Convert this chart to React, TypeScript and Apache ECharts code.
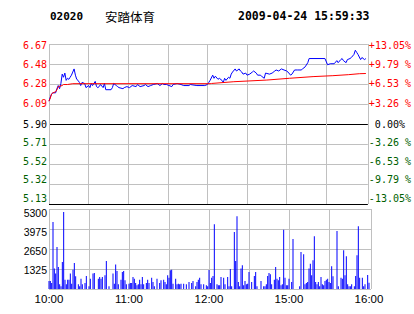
import React, { useEffect, useRef } from "react";
import * as echarts from "echarts";

const stockCode = "02020";
const stockName = "安踏体育";
const timestamp = "2009-04-24 15:59:33";
const prevClose = 5.9;
const pctMax = 13.05;
const volMax = 5300;

const leftTicks = ["5.13", "5.32", "5.52", "5.71", "5.90", "6.09", "6.28", "6.48", "6.67"];
const rightTicks = ["-13.05%", "-9.79 %", "-6.53 %", "-3.26 %", "0.00%", "+3.26 %", "+6.53 %", "+9.79 %", "+13.05%"];
const volTicks = ["", "1325", "2650", "3975", "5300"];
const timeTicks = ["10:00", "", "11:00", "", "12:00", "", "15:00", "", "16:00"];

const priceTimes = ["10:00","10:01","10:02","10:03","10:05","10:06","10:07","10:08","10:09","10:10","10:11","10:12","10:13","10:14","10:15","10:16","10:17","10:18","10:19","10:20","10:21","10:22","10:23","10:24","10:25","10:27","10:28","10:30","10:31","10:32","10:33","10:35","10:36","10:37","10:38","10:39","10:41","10:42","10:43","10:47","10:48","10:49","10:51","10:52","10:53","10:56","10:57","10:59","11:01","11:03","11:06","11:07","11:09","11:12","11:13","11:15","11:17","11:19","11:22","11:24","11:26","11:27","11:29","11:33","11:34","11:37","11:40","11:42","11:46","11:47","11:52","11:58","12:00","12:01","12:02","12:04","12:05","12:06","12:08","12:09","12:11","12:12","12:13","12:14","12:16","12:17","12:18","12:19","12:21","12:22","12:24","12:25","12:26","12:27","12:29","12:30","14:32","14:34","14:35","14:37","14:38","14:40","14:41","14:43","14:44","14:47","14:49","14:51","14:52","14:54","14:56","14:58","15:00","15:01","15:03","15:04","15:06","15:08","15:11","15:12","15:14","15:16","15:17","15:29","15:31","15:33","15:36","15:38","15:39","15:41","15:42","15:43","15:45","15:46","15:48","15:49","15:51","15:52","15:53","15:54","15:56","15:57","15:59","16:00"];
const priceValues = [6.12,6.16,6.19,6.20,6.20,6.24,6.27,6.24,6.29,6.38,6.35,6.39,6.32,6.34,6.33,6.35,6.37,6.40,6.43,6.37,6.33,6.32,6.30,6.27,6.30,6.29,6.25,6.27,6.25,6.29,6.27,6.31,6.26,6.25,6.26,6.28,6.25,6.29,6.23,6.23,6.25,6.29,6.27,6.26,6.25,6.24,6.25,6.26,6.25,6.27,6.26,6.28,6.26,6.27,6.28,6.26,6.27,6.28,6.29,6.27,6.29,6.28,6.28,6.26,6.28,6.29,6.28,6.27,6.27,6.28,6.27,6.27,6.28,6.30,6.32,6.37,6.34,6.36,6.33,6.34,6.32,6.30,6.34,6.32,6.35,6.34,6.38,6.40,6.43,6.41,6.43,6.41,6.40,6.38,6.39,6.37,6.38,6.40,6.41,6.39,6.37,6.37,6.36,6.34,6.39,6.38,6.39,6.41,6.42,6.41,6.43,6.42,6.41,6.40,6.37,6.38,6.42,6.42,6.42,6.43,6.45,6.49,6.53,6.53,6.47,6.48,6.48,6.51,6.49,6.52,6.53,6.51,6.49,6.52,6.53,6.54,6.57,6.61,6.59,6.57,6.52,6.54,6.52,6.53];

const avgTimes = ["10:00","10:01","10:02","10:03","10:05","10:06","10:07","10:10","10:11","10:14","10:18","12:02","12:03","12:20","14:45","15:02","15:20","15:35","15:47","15:55","16:00"];
const avgValues = [6.12,6.15,6.19,6.20,6.21,6.23,6.26,6.27,6.28,6.28,6.288,6.288,6.29,6.307,6.323,6.34,6.356,6.365,6.375,6.384,6.386];

// volume per trading minute (index 0 = 10:00 ... 240 = 16:00)
const volumes = [
  530,530,400,4440,1350,1020,2780,1460,310,177,
  1790,5100,620,310,620,620,1020,350,1280,1720,
  840,0,310,177,685,310,0,400,860,0,
  177,685,0,1020,1060,0,0,685,795,685,
  795,0,905,1855,0,177,0,0,1020,350,
  1630,1190,310,0,620,1125,1190,575,310,0,
  350,400,400,795,685,400,243,310,620,310,
  795,310,0,400,620,400,0,750,464,177,
  0,685,0,400,575,0,620,464,310,905,
  750,1237,1280,350,0,685,310,350,310,350,
  0,350,0,310,0,464,0,400,530,0,
  177,464,620,750,310,0,310,0,243,177,
  1260,400,750,860,4285,0,310,243,243,795,
  0,750,310,0,795,177,1330,177,0,3776,
  1855,4814,464,177,1350,1570,243,530,310,350,
  1125,0,464,0,860,1125,177,0,0,530,
  0,177,177,310,860,1060,970,310,0,620,
  1460,685,575,795,243,310,3930,750,243,243,
  685,0,464,3312,0,0,0,0,177,2450,
  0,2297,310,400,464,1350,1680,905,1900,3490,
  464,310,464,177,795,310,243,530,620,685,
  464,400,1500,840,0,0,3843,177,0,750,
  685,2562,905,2164,310,177,177,310,0,177,
  860,2230,4152,750,0,750,177,310,0,930,
  420
];

const GRAY = "#c0c0c0";
const RED = "#ff0000";
const GREEN = "#005f00";
const BLUE = "#0000ff";
const MONO = "DejaVu Sans Mono";
const SANS = "Liberation Sans";

function toIdx(t: string): number {
  const [h, m] = t.split(":").map(Number);
  const mins = h * 60 + m;
  return mins >= 14 * 60 + 30 ? mins - 600 - 120 : mins - 600;
}
const toPct = (p: number) => (p / prevClose - 1) * 100;

export default function App() {
  const ref = useRef<HTMLDivElement>(null);
  useEffect(() => {
    if (!ref.current) return;
    const chart = echarts.init(ref.current, null, { renderer: "svg" });
    const pctStep = pctMax / 4;
    const pIdx = (v: number) => Math.round((v + pctMax) / pctStep);
    const shiftUp = [6, 5, 3, 2, 0, 1, 1, 0, -1];
    const pad = (s: number, left = 0) => (s >= 0 ? [0, 0, 2 * s, left] : [-2 * s, 0, 0, left]);
    const colorAt = (i: number) => (i < 4 ? GREEN : i === 4 ? "#000" : RED);
    const leftRich: any = {};
    const rightRich: any = {};
    for (let i = 0; i < 9; i++) {
      leftRich["l" + i] = { color: colorAt(i), fontFamily: MONO, fontSize: 10, padding: pad(shiftUp[i]) };
      rightRich["r" + i] = { color: colorAt(i), fontFamily: MONO, fontSize: 10, padding: pad(shiftUp[i], i === 4 ? 6 : 0) };
    }
    const volRich: any = {};
    for (let i = 0; i < 5; i++) {
      volRich["v" + i] = { color: "#000", fontFamily: SANS, fontSize: 10.5, padding: [2 * i, 0, 0, 0] };
    }
    const vSplit = [GRAY, GRAY, GRAY, GRAY, GRAY, GRAY, GRAY, GRAY, "rgba(0,0,0,0)", GRAY];
    const hSplit = ["#000", GRAY, GRAY, GRAY, "#000", GRAY, GRAY, GRAY, GRAY];

    const xBase = (gridIndex: number, labels: boolean) => ({
      type: "value",
      gridIndex,
      min: 0,
      max: 241.5,
      interval: 30,
      axisLine: { show: false },
      axisTick: { show: false },
      splitLine: { show: true, lineStyle: { color: vSplit, width: 1 } },
      axisLabel: labels
        ? {
            show: true,
            margin: 4,
            color: "#000",
            fontFamily: SANS,
            fontSize: 11.5,
            formatter: (v: number) => (v % 30 === 0 ? timeTicks[v / 30] ?? "" : ""),
          }
        : { show: false },
    });

    const option: any = {
      animation: false,
      backgroundColor: "#fff",
      grid: [
        { left: 49, top: 44, width: 322, height: 160 },
        { left: 49, top: 209, width: 322, height: 80 },
      ],
      xAxis: [xBase(0, false), xBase(1, true)],
      yAxis: [
        {
          type: "value",
          gridIndex: 0,
          position: "left",
          min: -pctMax,
          max: pctMax,
          interval: pctStep,
          axisLine: { show: false },
          axisTick: { show: false },
          splitLine: { show: true, lineStyle: { color: hSplit, width: 1 } },
          axisLabel: {
            margin: 2,
            formatter: (v: number) => {
              const i = pIdx(v);
              return `{l${i}|${leftTicks[i]}}`;
            },
            rich: leftRich,
          },
        },
        {
          type: "value",
          gridIndex: 0,
          position: "right",
          min: -pctMax,
          max: pctMax,
          interval: pctStep,
          axisLine: { show: false },
          axisTick: { show: false },
          splitLine: { show: false },
          axisLabel: {
            margin: 1,
            formatter: (v: number) => {
              const i = pIdx(v);
              return `{r${i}|${rightTicks[i]}}`;
            },
            rich: rightRich,
          },
        },
        {
          type: "value",
          gridIndex: 1,
          min: 0,
          max: volMax,
          interval: volMax / 4,
          axisLine: { show: false },
          axisTick: { show: false },
          splitLine: { show: true, lineStyle: { color: GRAY, width: 1 } },
          axisLabel: {
            margin: 2,
            formatter: (v: number) => {
              const i = Math.round(v / (volMax / 4));
              return volTicks[i] ? `{v${i}|${volTicks[i]}}` : "";
            },
            rich: volRich,
          },
        },
      ],
      series: [
        {
          type: "line",
          xAxisIndex: 0,
          yAxisIndex: 0,
          symbol: "none",
          lineStyle: { color: BLUE, width: 1 },
          itemStyle: { color: BLUE },
          data: priceTimes.map((t, i) => [toIdx(t), toPct(priceValues[i])]),
          z: 3,
        },
        {
          type: "line",
          xAxisIndex: 0,
          yAxisIndex: 0,
          symbol: "none",
          lineStyle: { color: RED, width: 1 },
          itemStyle: { color: RED },
          data: avgTimes.map((t, i) => [toIdx(t), toPct(avgValues[i])]),
          z: 4,
        },
        {
          type: "bar",
          xAxisIndex: 1,
          yAxisIndex: 2,
          barWidth: 1,
          itemStyle: { color: BLUE },
          data: volumes.map((v, i) => [i, v]).filter((d) => d[1] > 0),
        },
      ],
      graphic: [
        { type: "text", x: 50, y: 16, style: { text: stockCode, font: `bold 11px "${MONO}"`, fill: "#000", verticalAlign: "middle" } },
        { type: "text", x: 105, y: 16, style: { text: stockName, font: `12.5px "Noto Sans CJK SC"`, fill: "#000", verticalAlign: "middle" } },
        { type: "text", x: 238, y: 16, style: { text: timestamp, font: `bold 11.5px "${MONO}"`, fill: "#000", verticalAlign: "middle" } },
      ],
    };
    chart.setOption(option);
    return () => chart.dispose();
  }, []);
  return (
    <div
      ref={ref}
      style={{ position: "fixed", left: 0, top: 0, width: 414, height: 314, background: "#fff" }}
    />
  );
}
